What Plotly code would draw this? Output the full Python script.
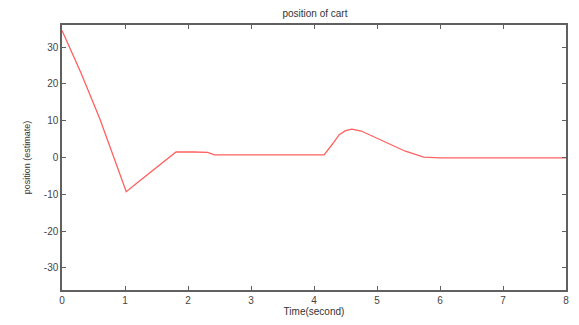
import plotly.graph_objects as go

time_s = [0.0, 0.3, 0.6, 0.85, 1.02, 1.2, 1.4, 1.6, 1.81, 2.1, 2.31, 2.42, 3.0, 3.5, 4.16, 4.3, 4.4, 4.5, 4.6, 4.75, 5.0, 5.2, 5.45, 5.74, 6.0, 7.0, 8.0]
position = [34.5, 23.0, 10.5, -1.5, -9.3, -6.8, -4.0, -1.2, 1.5, 1.5, 1.4, 0.7, 0.7, 0.7, 0.7, 3.8, 6.2, 7.3, 7.7, 7.2, 5.3, 3.7, 1.7, 0.1, -0.1, -0.1, -0.1]

x_ticks = [0, 1, 2, 3, 4, 5, 6, 7, 8]
y_ticks = [-30, -20, -10, 0, 10, 20, 30]
y_tick_labels = ["-30", "-20", "-10", "0", "10", "20", "30"]

fig = go.Figure()
fig.add_trace(go.Scatter(x=time_s, y=position, mode="lines",
                         line=dict(color="#ff6060", width=1.3), showlegend=False))

axis_common = dict(showgrid=False, zeroline=False, showline=True, linecolor="#606060",
                   linewidth=1.5, mirror="ticks", ticks="inside", ticklen=4,
                   tickcolor="#606060", tickfont=dict(family="Liberation Sans, Arial", size=10, color="#444444"))

fig.update_layout(
    width=579, height=325,
    margin=dict(l=62, r=10, t=25, b=33),
    paper_bgcolor="white", plot_bgcolor="white",
    title=dict(text="position of cart", x=0.544, xanchor="center", y=0.957, yanchor="middle",
               font=dict(family="Liberation Sans, Arial", size=10, color="#333333")),
    xaxis=dict(range=[0, 8], tickvals=x_ticks,
               title=dict(text="Time(second)", standoff=2,
                          font=dict(family="Liberation Sans, Arial", size=10, color="#333333")),
               **axis_common),
    yaxis=dict(range=[-36, 36], tickvals=y_ticks, ticktext=y_tick_labels,
               title=dict(text="position (estimate)", standoff=12,
                          font=dict(family="Liberation Sans, Arial", size=9, color="#333333")),
               **axis_common),
)

fig.write_html("out.html")
